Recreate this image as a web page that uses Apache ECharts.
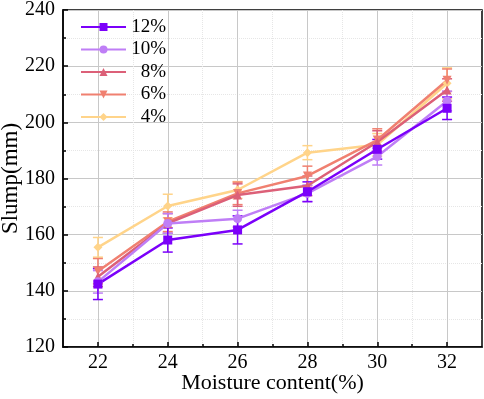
<!DOCTYPE html>
<html><head><meta charset="utf-8">
<script src="https://cdn.jsdelivr.net/npm/echarts@6/dist/echarts.min.js"></script>
<style>html,body{margin:0;padding:0;background:#fff}#c{width:484px;height:399px}</style>
</head><body><div id="c"></div>
<script>
const moisture = [22, 24, 26, 28, 30, 32];
const names = ['12%', '10%', '8%', '6%', '4%'];
const s12 = [142.4, 158.1, 161.7, 175.3, 190.4, 205.0];
const s10 = [143.2, 164.0, 165.7, 174.7, 187.8, 207.6];
const s8  = [145.0, 164.0, 174.1, 177.4, 193.0, 211.5];
const s6  = [147.0, 164.6, 174.7, 180.9, 193.7, 215.0];
const s4  = [155.5, 170.2, 175.9, 189.2, 192.0, 213.9];
const e12 = [5.5, 4.3, 5.0, 3.5, 3.5, 4.0];
const e10 = [4.0, 3.5, 3.0, 3.0, 3.0, 3.5];
const e8  = [3.5, 3.5, 4.0, 3.5, 4.0, 4.0];
const e6  = [4.5, 3.5, 4.0, 3.5, 4.0, 4.0];
const e4  = [3.5, 4.2, 3.0, 2.5, 4.0, 5.5];
const xTicks = [22, 24, 26, 28, 30, 32];
const xMinor = [23, 25, 27, 29, 31];

const values = [s12, s10, s8, s6, s4];
const errs = [e12, e10, e8, e6, e4];
const colors = ['#7B00FA', '#BF7EF6', '#DC6078', '#F08070', '#FFD48A'];
const symbols = ['rect', 'circle', 'triangle', 'triangle', 'diamond'];
const rotates = [0, 0, 0, 180, 0];
const FONT = 'Liberation Serif';

const series = [];
for (let i = values.length - 1; i >= 0; i--) {
  const col = colors[i];
  series.push({
    name: names[i] + ' err', type: 'custom', xAxisIndex: 0, yAxisIndex: 0,
    encode: { x: 0, y: [1, 2] }, z: 2,
    data: moisture.map((m, k) => [m, values[i][k] - errs[i][k], values[i][k] + errs[i][k]]),
    renderItem: function (params, api) {
      const x = api.value(0), lo = api.value(1), hi = api.value(2);
      const a = api.coord([x, hi]), b = api.coord([x, lo]);
      const w = 5;
      const st = { stroke: col, lineWidth: 1.5, fill: null };
      return { type: 'group', children: [
        { type: 'line', shape: { x1: a[0], y1: a[1], x2: b[0], y2: b[1] }, style: st },
        { type: 'line', shape: { x1: a[0] - w, y1: a[1], x2: a[0] + w, y2: a[1] }, style: st },
        { type: 'line', shape: { x1: b[0] - w, y1: b[1], x2: b[0] + w, y2: b[1] }, style: st }
      ]};
    }
  });
  series.push({
    name: names[i], type: 'line', xAxisIndex: 0, yAxisIndex: 0, z: 3,
    data: moisture.map((m, k) => [m, values[i][k]]),
    symbol: symbols[i], symbolRotate: rotates[i], symbolSize: 9,
    itemStyle: { color: col }, lineStyle: { color: col, width: 2.5 }
  });
}

const chart = echarts.init(document.getElementById('c'));
chart.setOption({
  animation: false,
  grid: { left: 63, right: 2, top: 10, bottom: 52, outerBoundsMode: 'none', containLabel: false,
          show: true, borderColor: '#000', borderWidth: 1.5, backgroundColor: 'transparent' },
  legend: {
    data: names, orient: 'vertical', left: 75, top: 12.5, itemWidth: 45, itemHeight: 10, itemGap: 3.5,
    formatter: n => '{a|' + n + '}',
    textStyle: { color: '#000', rich: { a: { width: 35, align: 'right', fontSize: 19, fontFamily: FONT, color: '#000', lineHeight: 20 } } }
  },
  xAxis: [{
    type: 'value', min: 21, max: 33, interval: 1,
    name: 'Moisture content(%)', nameLocation: 'middle', nameGap: 25, nameMoveOverlap: false,
    nameTextStyle: { fontFamily: FONT, fontSize: 22, color: '#000' },
    axisLine: { lineStyle: { color: '#000', width: 1.5 } },
    axisTick: { inside: true, length: 5, customValues: xTicks, lineStyle: { color: '#000', width: 1.5 } },
    axisLabel: { customValues: xTicks, fontFamily: FONT, fontSize: 20, color: '#000', margin: 6 },
    splitLine: { show: true, lineStyle: { color: '#c8c8c8', width: 1 } }
  }, {
    type: 'value', min: 21, max: 33, interval: 1, position: 'bottom', gridIndex: 0,
    axisLine: { show: false },
    axisTick: { inside: true, length: 3, customValues: xMinor, lineStyle: { color: '#000', width: 1.5 } },
    axisLabel: { show: false },
    splitLine: { show: true, lineStyle: { color: '#e6e6e6', width: 1, type: 'dotted' } }
  }],
  yAxis: {
    type: 'value', min: 120, max: 240, interval: 20,
    name: 'Slump(mm)', nameLocation: 'middle', nameGap: 41, nameMoveOverlap: false,
    nameTextStyle: { fontFamily: FONT, fontSize: 23, color: '#000' },
    axisLine: { show: true, lineStyle: { color: '#000', width: 1.5 } },
    axisTick: { show: true, inside: true, length: 5, lineStyle: { color: '#000', width: 1.5 } },
    minorTick: { show: true, splitNumber: 2, length: 3, lineStyle: { color: '#000', width: 1.5 } },
    axisLabel: { fontFamily: FONT, fontSize: 20, color: '#000', margin: 8 },
    splitLine: { show: true, lineStyle: { color: '#c8c8c8', width: 1 } },
    minorSplitLine: { show: true, lineStyle: { color: '#e6e6e6', width: 1, type: 'dotted' } }
  },
  series: series
});
</script></body></html>
